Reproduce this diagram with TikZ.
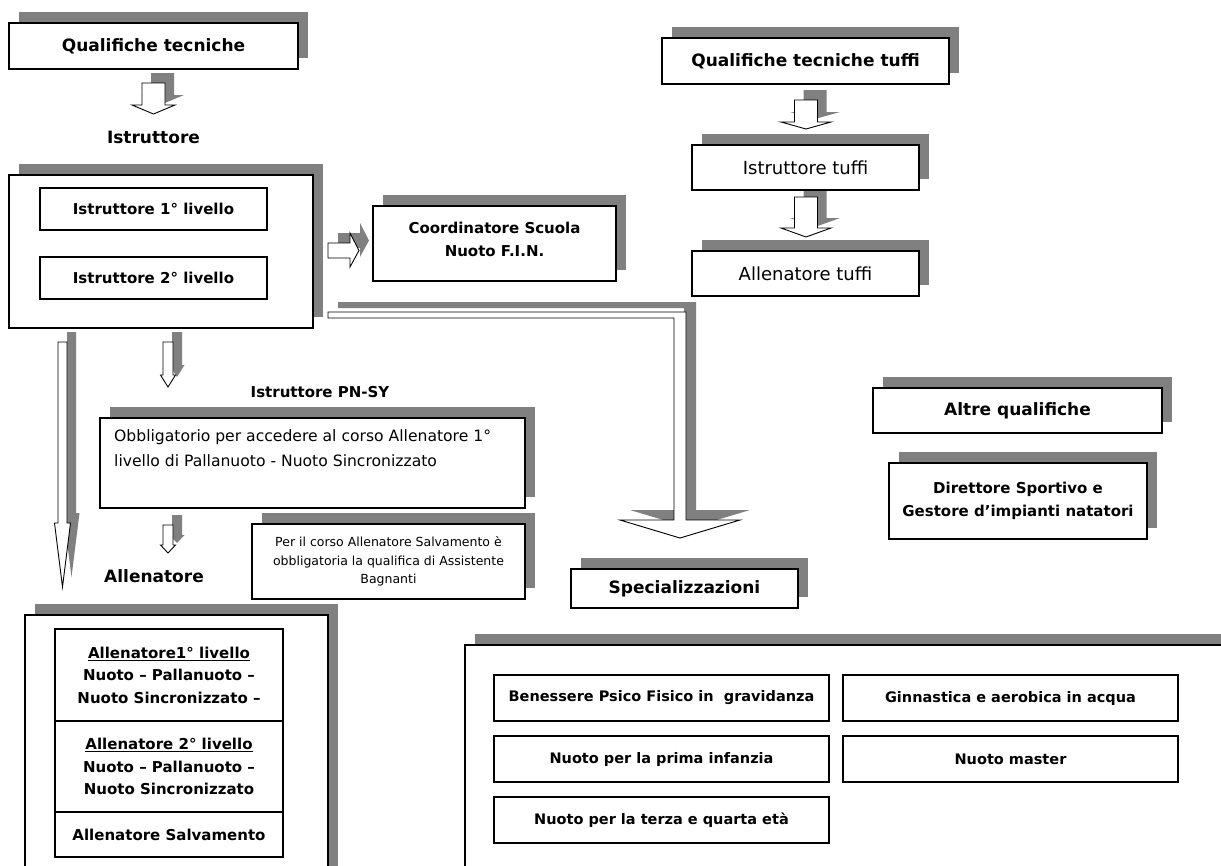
\documentclass[tikz,border=0pt]{standalone}
\usepackage{fontspec}
\setmainfont{DejaVu Sans}
\usetikzlibrary{shadows}
\definecolor{shd}{HTML}{808080}
\tikzset{
  shbox/.style={draw=black, fill=white, line width=1.2pt, inner sep=0pt, align=center,
    drop shadow={shadow xshift=10pt, shadow yshift=11pt, fill=shd, opacity=1}},
  plainbox/.style={draw=black, fill=white, line width=1.2pt, inner sep=0pt, align=center},
  arrowshape/.style={draw=black, fill=white, line width=0.9pt, line join=miter},
  arrowshadow/.style={fill=shd, draw=none},
  tA/.style={font=\bfseries\fontsize{17}{21}\selectfont},
  tB/.style={font=\bfseries\fontsize{15}{23}\selectfont},
  tT/.style={font=\bfseries\fontsize{15}{22.5}\selectfont},
  tC/.style={font=\fontsize{18}{21}\selectfont},
  tD/.style={font=\fontsize{15.6}{25}\selectfont},
  tE/.style={font=\fontsize{12.5}{18.5}\selectfont},
  tS/.style={font=\bfseries\fontsize{14.5}{18}\selectfont},
}
% box: style, name, x1, y1, x2, y2, text
\newcommand\bx[7]{\node[#1, minimum width={(#5)-(#3)}, minimum height={(#6)-(#4)}]
  (#2) at ({((#3)+(#5))/2},{((#4)+(#6))/2}) {#7};}
% down block arrow: cx, top, headstart, tip, bodyhalf, headhalf
\newcommand\dnarr[6]{%
  \path[arrowshadow] ({#1-#5+9},{#2-10}) -- ({#1+#5+9},{#2-10}) -- ({#1+#5+9},{#3-10})
     -- ({#1+#6+9},{#3-10}) -- ({#1+9},{#4-10}) -- ({#1-#6+9},{#3-10}) -- ({#1-#5+9},{#3-10}) -- cycle;
  \draw[arrowshape] ({#1-#5},{#2}) -- ({#1+#5},{#2}) -- ({#1+#5},{#3})
     -- ({#1+#6},{#3}) -- ({#1},{#4}) -- ({#1-#6},{#3}) -- ({#1-#5},{#3}) -- cycle;}
\begin{document}
\begin{tikzpicture}[x=1pt,y=-1pt]
\useasboundingbox (0,0) rectangle (1221,865);
\fill[white] (0,0) rectangle (1221,865);

% ---- block arrows ----
\dnarr{153.5}{83}{105}{114}{11.5}{21.5}
\dnarr{62.5}{342}{523}{587}{4.5}{8}
\dnarr{168}{342}{375}{387}{5}{7.5}
\dnarr{168}{525}{545}{553}{5}{7.5}
\dnarr{806}{100}{122}{129}{11.5}{25}
\dnarr{806}{197}{228}{237}{11.5}{25}
% right arrow to Coordinatore
\path[arrowshadow] (338,233) -- (360,233) -- (360,223) -- (369,240.5) -- (360,257) -- (360,248) -- (338,248) -- cycle;
\draw[arrowshape] (328,243) -- (350,243) -- (350,233) -- (359,250.5) -- (350,267) -- (350,258) -- (328,258) -- cycle;
% L arrow to Specializzazioni
\path[arrowshadow] (338,302) -- (696,302) -- (696,510) -- (750,510) -- (690,528) -- (630,510) -- (684,510) -- (684,308) -- (338,308) -- cycle;
\draw[arrowshape] (328,312) -- (686,312) -- (686,520) -- (740,520) -- (680,538) -- (620,520) -- (674,520) -- (674,318) -- (328,318) -- cycle;

% ---- left column ----
\bx{shbox,tA}{qt}{9}{23}{298}{69}{Qualifiche tecniche}
\node[tA] (istr) at (153.5,137) {Istruttore};
\bx{shbox}{ibox}{9}{175}{313}{328}{}
\bx{plainbox,tB}{i1}{40}{188}{267}{230}{Istruttore 1° livello}
\bx{plainbox,tB}{i2}{40}{257}{267}{299}{Istruttore 2° livello}
\bx{shbox,tB}{coord}{373}{206}{616}{281}{Coordinatore Scuola\\Nuoto F.I.N.\\[-15pt]\mbox{}}

\node[tB] (pnsy) at (320,392) {Istruttore PN-SY};
\bx{shbox}{obb}{100}{418}{525}{508}{}
\node[tD, anchor=north west, align=left, inner sep=0pt] (obbt) at (114,429)
  {Obbligatorio per accedere al corso Allenatore 1°\\livello di Pallanuoto - Nuoto Sincronizzato};
\bx{shbox,tE}{percorso}{252}{524}{525}{599}{Per il corso Allenatore Salvamento è\\obbligatoria la qualifica di Assistente\\Bagnanti}
\node[tA] (allen) at (154,576) {Allenatore};

\bx{shbox}{abox}{25}{615}{328}{890}{}
\bx{plainbox,tT}{t1}{55}{629}{283}{721}{\underline{Allenatore1° livello}\\Nuoto – Pallanuoto –\\Nuoto Sincronizzato –}
\bx{plainbox,tT}{t2}{55}{721}{283}{812}{\underline{Allenatore 2° livello}\\Nuoto – Pallanuoto –\\Nuoto Sincronizzato}
\bx{plainbox,tT}{t3}{55}{812}{283}{857}{Allenatore Salvamento}

% ---- right column ----
\bx{shbox,tA}{qtt}{662}{38}{949}{84}{Qualifiche tecniche tuffi}
\bx{shbox,tC}{itf}{692}{145}{919}{190}{Istruttore tuffi}
\bx{shbox,tC}{atf}{692}{251}{919}{296}{Allenatore tuffi}

\bx{shbox,tA}{altre}{873}{388}{1162}{433}{Altre qualifiche}
\bx{shbox,tB}{dir}{889}{463}{1147}{539}{Direttore Sportivo e\\Gestore d’impianti natatori}

\bx{shbox,tA}{spec}{571}{569}{798}{608}{Specializzazioni}
\bx{shbox}{sbox}{465}{645}{1240}{890}{}
\bx{plainbox,tS}{s1}{494}{675}{829}{721}{Benessere Psico Fisico in\ \ gravidanza}
\bx{plainbox,tS}{s2}{843}{675}{1178}{721}{Ginnastica e aerobica in acqua}
\bx{plainbox,tS}{s3}{494}{736}{829}{782}{Nuoto per la prima infanzia}
\bx{plainbox,tS}{s4}{843}{736}{1178}{782}{Nuoto master}
\bx{plainbox,tS}{s5}{494}{797}{829}{843}{Nuoto per la terza e quarta età}
\end{tikzpicture}
\end{document}
